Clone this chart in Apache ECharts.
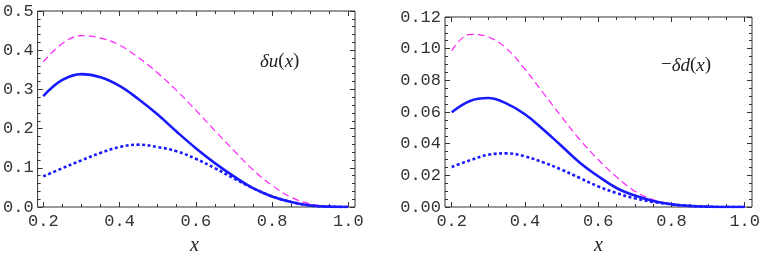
<!DOCTYPE html>
<html><head><meta charset="utf-8">
<script src="https://cdn.jsdelivr.net/npm/echarts@6/dist/echarts.min.js"></script>
<style>html,body{margin:0;padding:0;background:#fff}#c{width:763px;height:264px}</style>
</head><body><div id="c"></div>
<script>
// shared x grid of the curves
const xs = [0.2,0.25,0.3,0.35,0.4,0.45,0.5,0.55,0.6,0.65,0.7,0.75,0.8,0.85,0.9,0.95,1.0];
// left panel: delta u(x)
const uDashed = [0.370,0.417,0.437,0.431,0.413,0.381,0.342,0.297,0.247,0.195,0.144,0.095,0.055,0.025,0.008,0.001,0];
const uSolid  = [0.283,0.324,0.339,0.331,0.309,0.275,0.236,0.192,0.150,0.112,0.078,0.048,0.027,0.013,0.004,0.001,0];
const uDotted = [0.078,0.099,0.119,0.138,0.153,0.159,0.153,0.142,0.123,0.099,0.073,0.048,0.027,0.013,0.004,0.001,0];
// right panel: -delta d(x)
const dDashed = [0.0987,0.1090,0.1074,0.1000,0.0870,0.0720,0.0570,0.0425,0.0300,0.0190,0.0100,0.0046,0.0020,0.0008,0.0002,0,0];
const dSolid  = [0.0598,0.0670,0.0688,0.0653,0.0586,0.0490,0.0385,0.0280,0.0194,0.0120,0.0072,0.0038,0.0017,0.0006,0.0002,0,0];
const dDotted = [0.0253,0.0295,0.0330,0.0339,0.0320,0.0282,0.0236,0.0183,0.0130,0.0088,0.0055,0.0032,0.0017,0.0007,0.0002,0,0];

const pair = a => xs.map((x,i)=>[x,a[i]]);
const FR = '#333';
const MONO = '"Liberation Mono", "Courier New", "DejaVu Sans Mono", monospace';
const SERIF = '"Liberation Serif", "DejaVu Serif", serif';
const monoLab = {fontFamily:MONO, fontSize:17, color:'#333'};

function frameY(gi, max, iv, minorSplit, fmt, pos, showLab){
  return {gridIndex:gi, type:'value', min:0, max:max, interval:iv, position:pos,
    axisLine:{show:false}, splitLine:{show:false},
    axisTick:{show:true, inside:true, length:5, lineStyle:{color:FR}},
    minorTick:{show:true, splitNumber:minorSplit, length:3, lineStyle:{color:FR}},
    axisLabel: showLab ? Object.assign({margin:4, formatter:v=>v.toFixed(fmt)}, monoLab) : {show:false}};
}
function dataX(gi, pos, showLab){
  return {gridIndex:gi, type:'value', min:0.2, max:1.0, interval:0.2, position:pos,
    axisLine:{show:false}, splitLine:{show:false},
    axisTick:{show:true, inside:true, length:5, lineStyle:{color:FR}},
    minorTick:{show:true, splitNumber:4, length:3, lineStyle:{color:FR}},
    axisLabel: showLab ? Object.assign({margin:6, formatter:v=>v.toFixed(1)}, monoLab) : {show:false}};
}
function hid(gi, min, max){ return {gridIndex:gi, type:'value', min:min, max:max, show:false, splitLine:{show:false}}; }

function series(xi, yi, dash, solid, dot){
  const base = {type:'line', xAxisIndex:xi, yAxisIndex:yi, smooth:0.4, showSymbol:false, silent:true};
  return [
    Object.assign({}, base, {data:pair(dash), lineStyle:{color:'#ff22ff', width:1.2, type:[7,4]}}),
    Object.assign({}, base, {data:pair(solid), lineStyle:{color:'#1a1aff', width:2.6}}),
    Object.assign({}, base, {data:pair(dot), lineStyle:{color:'#1a1aff', width:2.6, type:[3,2.5]}})
  ];
}

function draw(){
  const chart = echarts.init(document.getElementById('c'), null, {renderer:'canvas'});
  const rich = {
    i:{fontFamily:SERIF, fontStyle:'italic', fontSize:19, fill:'#222'},
    n:{fontFamily:SERIF, fontSize:19, fill:'#222'}};
  chart.setOption({
    animation:false,
    grid:[
      {left:37, top:11, width:318, height:196, show:true, borderColor:FR, borderWidth:1, backgroundColor:'transparent'},
      {left:43.3, top:11, width:305, height:196},
      {left:445, top:17, width:307, height:190, show:true, borderColor:FR, borderWidth:1, backgroundColor:'transparent'},
      {left:451.7, top:17, width:295, height:190}
    ],
    xAxis:[
      hid(0,0,1),
      dataX(1,'bottom',true), dataX(1,'top',false),
      hid(2,0,1),
      dataX(3,'bottom',true), dataX(3,'top',false)
    ],
    yAxis:[
      frameY(0,0.5,0.1,5,1,'left',true), frameY(0,0.5,0.1,5,1,'right',false),
      hid(1,0,0.5),
      frameY(2,0.12,0.02,4,2,'left',true), frameY(2,0.12,0.02,4,2,'right',false),
      hid(3,0,0.12)
    ],
    series:[].concat(series(1,2,uDashed,uSolid,uDotted), series(4,5,dDashed,dSolid,dDotted)),
    graphic:[
      {type:'text', left:260, top:52, style:{text:'{i|δu}{n|(}{i|x}{n|)}', rich:rich}},
      {type:'text', left:661, top:56, style:{text:'{n|−}{i|δd}{n|(}{i|x}{n|)}', rich:rich}},
      {type:'text', left:190, top:236, style:{text:'x', fontFamily:SERIF, fontStyle:'italic', fontSize:20, fill:'#222'}},
      {type:'text', left:594, top:236, style:{text:'x', fontFamily:SERIF, fontStyle:'italic', fontSize:20, fill:'#222'}}
    ]
  });
}
if (document.fonts && document.fonts.load) {
  Promise.all([
    document.fonts.load('17px "Liberation Mono"'),
    document.fonts.load('italic 19px "Liberation Serif"'),
    document.fonts.load('19px "Liberation Serif"')
  ]).then(draw, draw);
} else { draw(); }
</script></body></html>
